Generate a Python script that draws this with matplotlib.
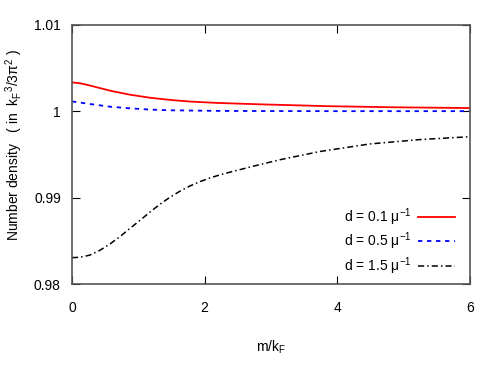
import numpy as np
import matplotlib
matplotlib.use('Agg')
import matplotlib.pyplot as plt

plt.rcParams['font.family'] = ['Liberation Sans', 'DejaVu Sans']
plt.rcParams['mathtext.fontset'] = 'custom'
plt.rcParams['mathtext.rm'] = 'Liberation Sans'
plt.rcParams['mathtext.it'] = 'Liberation Sans'

# values
x_red = [0, 0.12, 0.27, 0.57, 0.87, 1.18, 1.48, 1.78, 2.2, 2.84, 3.84, 4.84, 6.0]
y_red = [1.00335, 1.00325, 1.00299, 1.00240, 1.00193, 1.00157, 1.00132, 1.00113, 1.00097,
         1.00081, 1.00060, 1.00047, 1.00038]

x_blue = [0, 0.27, 0.57, 0.87, 1.18, 1.48, 2.2, 3.0, 4.0, 6.0]
y_blue = [1.00115, 1.00085, 1.00054, 1.00035, 1.0002, 1.00012, 1.00005, 1.00003,
          1.00002, 1.00002]

x_black = [0, 0.12, 0.27, 0.42, 0.57, 0.72, 0.87, 1.03, 1.18, 1.33, 1.48, 1.63, 1.78,
           1.93, 2.08, 2.23, 2.38, 2.79, 3.14, 3.74, 4.49, 5.25, 6.0]
y_black = [0.98305, 0.98310, 0.98335, 0.98390, 0.98462, 0.98547, 0.98642, 0.98740,
           0.98836, 0.98926, 0.99006, 0.99076, 0.99136, 0.99186, 0.99228, 0.99264,
           0.99295, 0.99375, 0.99440, 0.99535, 0.99622, 0.99673, 0.99706]

labels = [r'd = 0.1 $\mu^{-1}$', r'd = 0.5 $\mu^{-1}$', r'd = 1.5 $\mu^{-1}$']

fig = plt.figure(figsize=(4.91, 3.82), dpi=100)
ax = fig.add_axes([0.1466, 0.2565, 0.957 - 0.1466, 0.9346 - 0.2565])

ax.plot(x_red, y_red, color='#ff0000', lw=1.3, label=labels[0])
ax.plot(x_blue, y_blue, color='#0000ff', lw=1.3, ls=(0, (2.4, 2.6)), label=labels[1])
ax.plot(x_black, y_black, color='black', lw=1.1, ls=(0, (4, 2, 1, 2)), label=labels[2])

ax.set_xlim(0, 6)
ax.set_ylim(0.98, 1.01)
ax.set_xticks([0, 2, 4, 6])
ax.set_yticks([0.98, 0.99, 1.0, 1.01])
ax.set_yticklabels(['0.98', '0.99', '1', '1.01'])
ax.tick_params(direction='in', top=True, right=True, length=6, labelsize=10)
ax.tick_params(axis='x', pad=12)
ax.tick_params(axis='y', pad=8)
for s in ax.spines.values():
    s.set_color('#555555')
    s.set_linewidth(1.2)

ax.set_xlabel(r'm/k$_\mathrm{F}$', fontsize=10, labelpad=17)
ax.set_ylabel(r'Number density   ( in  k$_\mathrm{F}$$^3$/3$\pi^2$ )', fontsize=10)
ax.yaxis.set_label_coords(-0.118, 0.539)

ax.legend(loc='lower right', frameon=False, markerfirst=False, fontsize=10,
          handlelength=2.6, handletextpad=0.5, labelspacing=0.2,
          bbox_to_anchor=(0.993, -0.02))

fig.savefig('out.png', dpi=100)
